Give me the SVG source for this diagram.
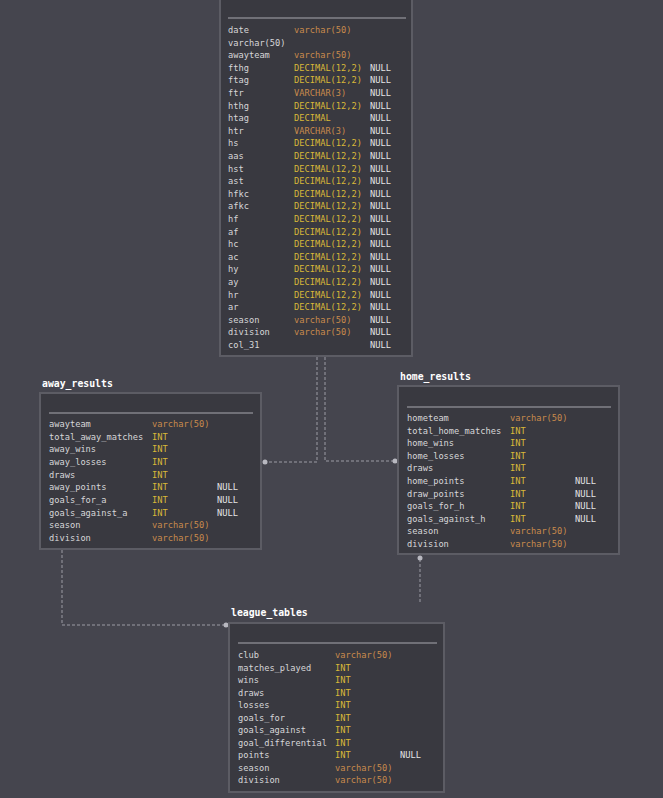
<svg xmlns="http://www.w3.org/2000/svg" width="663" height="798" viewBox="0 0 663 798">
<style>
.bg{fill:#45454e}
.box{fill:#393940;stroke:#5c5c64;stroke-width:2}
.sep{stroke:#a8a8ae;stroke-width:1.2}
text{font-family:"DejaVu Sans Mono","Liberation Mono",monospace;font-size:8.7px}
.n{fill:#d6d6d8}
.v{fill:#c88a4c}
.d{fill:#d8b838}
.nl{fill:#e4e4e6}
.t{fill:#ffffff;font-size:9.8px;font-weight:bold}
.c{fill:none;stroke:#9c9ca4;stroke-width:1;stroke-dasharray:3 2}
.dot{fill:#b8b8c0}
</style>
<rect class="bg" x="0" y="0" width="663" height="798"/>
<g id="connectors">
<path class="c" d="M317 357 V462 H265"/>
<path class="c" d="M325 357 V461 H395"/>
<path class="c" d="M62 550 V625 H226"/>
<path class="c" d="M420 559 V602"/>
<circle class="dot" cx="265" cy="462" r="2.5"/>
<circle class="dot" cx="395" cy="461" r="2.5"/>
<circle class="dot" cx="226" cy="625" r="2.5"/>
<circle class="dot" cx="420" cy="558" r="2.5"/>
</g>
<g id="matches">
<rect class="box" x="220" y="-10" width="192" height="366"/>
<line class="sep" x1="228" y1="18" x2="406" y2="18"/>
<g class="n">
<text x="228" y="33">date</text>
<text x="228" y="45.6">varchar(50)</text>
<text x="228" y="58.2">awayteam</text>
<text x="228" y="70.8">fthg</text>
<text x="228" y="83.4">ftag</text>
<text x="228" y="96">ftr</text>
<text x="228" y="108.6">hthg</text>
<text x="228" y="121.2">htag</text>
<text x="228" y="133.8">htr</text>
<text x="228" y="146.4">hs</text>
<text x="228" y="159">aas</text>
<text x="228" y="171.6">hst</text>
<text x="228" y="184.2">ast</text>
<text x="228" y="196.8">hfkc</text>
<text x="228" y="209.4">afkc</text>
<text x="228" y="222">hf</text>
<text x="228" y="234.6">af</text>
<text x="228" y="247.2">hc</text>
<text x="228" y="259.8">ac</text>
<text x="228" y="272.4">hy</text>
<text x="228" y="285">ay</text>
<text x="228" y="297.6">hr</text>
<text x="228" y="310.2">ar</text>
<text x="228" y="322.8">season</text>
<text x="228" y="335.4">division</text>
<text x="228" y="348">col_31</text>
</g>
<text class="v" x="294" y="33">varchar(50)</text>
<text class="v" x="294" y="58.2">varchar(50)</text>
<text class="d" x="294" y="70.8">DECIMAL(12,2)</text>
<text class="d" x="294" y="83.4">DECIMAL(12,2)</text>
<text class="v" x="294" y="96">VARCHAR(3)</text>
<text class="d" x="294" y="108.6">DECIMAL(12,2)</text>
<text class="d" x="294" y="121.2">DECIMAL</text>
<text class="v" x="294" y="133.8">VARCHAR(3)</text>
<text class="d" x="294" y="146.4">DECIMAL(12,2)</text>
<text class="d" x="294" y="159">DECIMAL(12,2)</text>
<text class="d" x="294" y="171.6">DECIMAL(12,2)</text>
<text class="d" x="294" y="184.2">DECIMAL(12,2)</text>
<text class="d" x="294" y="196.8">DECIMAL(12,2)</text>
<text class="d" x="294" y="209.4">DECIMAL(12,2)</text>
<text class="d" x="294" y="222">DECIMAL(12,2)</text>
<text class="d" x="294" y="234.6">DECIMAL(12,2)</text>
<text class="d" x="294" y="247.2">DECIMAL(12,2)</text>
<text class="d" x="294" y="259.8">DECIMAL(12,2)</text>
<text class="d" x="294" y="272.4">DECIMAL(12,2)</text>
<text class="d" x="294" y="285">DECIMAL(12,2)</text>
<text class="d" x="294" y="297.6">DECIMAL(12,2)</text>
<text class="d" x="294" y="310.2">DECIMAL(12,2)</text>
<text class="v" x="294" y="322.8">varchar(50)</text>
<text class="v" x="294" y="335.4">varchar(50)</text>
<g class="nl">
<text x="370" y="70.8">NULL</text>
<text x="370" y="83.4">NULL</text>
<text x="370" y="96">NULL</text>
<text x="370" y="108.6">NULL</text>
<text x="370" y="121.2">NULL</text>
<text x="370" y="133.8">NULL</text>
<text x="370" y="146.4">NULL</text>
<text x="370" y="159">NULL</text>
<text x="370" y="171.6">NULL</text>
<text x="370" y="184.2">NULL</text>
<text x="370" y="196.8">NULL</text>
<text x="370" y="209.4">NULL</text>
<text x="370" y="222">NULL</text>
<text x="370" y="234.6">NULL</text>
<text x="370" y="247.2">NULL</text>
<text x="370" y="259.8">NULL</text>
<text x="370" y="272.4">NULL</text>
<text x="370" y="285">NULL</text>
<text x="370" y="297.6">NULL</text>
<text x="370" y="310.2">NULL</text>
<text x="370" y="322.8">NULL</text>
<text x="370" y="335.4">NULL</text>
<text x="370" y="348">NULL</text>
</g>
</g>
<g id="away_results">
<text class="t" x="42" y="386.5">away_results</text>
<rect class="box" x="40" y="393" width="221" height="156"/>
<line class="sep" x1="49" y1="413" x2="253" y2="413"/>
<g class="n">
<text x="49" y="427">awayteam</text>
<text x="49" y="439.7">total_away_matches</text>
<text x="49" y="452.3">away_wins</text>
<text x="49" y="465">away_losses</text>
<text x="49" y="477.7">draws</text>
<text x="49" y="490.3">away_points</text>
<text x="49" y="503">goals_for_a</text>
<text x="49" y="515.7">goals_against_a</text>
<text x="49" y="528.3">season</text>
<text x="49" y="541">division</text>
</g>
<text class="v" x="152" y="427">varchar(50)</text>
<text class="d" x="152" y="439.7">INT</text>
<text class="d" x="152" y="452.3">INT</text>
<text class="d" x="152" y="465">INT</text>
<text class="d" x="152" y="477.7">INT</text>
<text class="d" x="152" y="490.3">INT</text>
<text class="d" x="152" y="503">INT</text>
<text class="d" x="152" y="515.7">INT</text>
<text class="v" x="152" y="528.3">varchar(50)</text>
<text class="v" x="152" y="541">varchar(50)</text>
<text class="nl" x="217" y="490.3">NULL</text>
<text class="nl" x="217" y="503">NULL</text>
<text class="nl" x="217" y="515.7">NULL</text>
</g>
<g id="home_results">
<text class="t" x="400" y="379.5">home_results</text>
<rect class="box" x="398" y="386" width="221" height="168"/>
<line class="sep" x1="407" y1="407" x2="611" y2="407"/>
<g class="n">
<text x="407" y="421">hometeam</text>
<text x="407" y="433.6">total_home_matches</text>
<text x="407" y="446.2">home_wins</text>
<text x="407" y="458.8">home_losses</text>
<text x="407" y="471.4">draws</text>
<text x="407" y="484">home_points</text>
<text x="407" y="496.6">draw_points</text>
<text x="407" y="509.2">goals_for_h</text>
<text x="407" y="521.8">goals_against_h</text>
<text x="407" y="534.4">season</text>
<text x="407" y="547">division</text>
</g>
<text class="v" x="510" y="421">varchar(50)</text>
<text class="d" x="510" y="433.6">INT</text>
<text class="d" x="510" y="446.2">INT</text>
<text class="d" x="510" y="458.8">INT</text>
<text class="d" x="510" y="471.4">INT</text>
<text class="d" x="510" y="484">INT</text>
<text class="d" x="510" y="496.6">INT</text>
<text class="d" x="510" y="509.2">INT</text>
<text class="d" x="510" y="521.8">INT</text>
<text class="v" x="510" y="534.4">varchar(50)</text>
<text class="v" x="510" y="547">varchar(50)</text>
<text class="nl" x="575" y="484">NULL</text>
<text class="nl" x="575" y="496.6">NULL</text>
<text class="nl" x="575" y="509.2">NULL</text>
<text class="nl" x="575" y="521.8">NULL</text>
</g>
<g id="league_tables">
<text class="t" x="231" y="615.5">league_tables</text>
<rect class="box" x="229" y="623" width="215" height="169"/>
<line class="sep" x1="238" y1="643" x2="437" y2="643"/>
<g class="n">
<text x="238" y="658">club</text>
<text x="238" y="670.5">matches_played</text>
<text x="238" y="683">wins</text>
<text x="238" y="695.5">draws</text>
<text x="238" y="708">losses</text>
<text x="238" y="720.5">goals_for</text>
<text x="238" y="733">goals_against</text>
<text x="238" y="745.5">goal_differential</text>
<text x="238" y="758">points</text>
<text x="238" y="770.5">season</text>
<text x="238" y="783">division</text>
</g>
<text class="v" x="335" y="658">varchar(50)</text>
<text class="d" x="335" y="670.5">INT</text>
<text class="d" x="335" y="683">INT</text>
<text class="d" x="335" y="695.5">INT</text>
<text class="d" x="335" y="708">INT</text>
<text class="d" x="335" y="720.5">INT</text>
<text class="d" x="335" y="733">INT</text>
<text class="d" x="335" y="745.5">INT</text>
<text class="d" x="335" y="758">INT</text>
<text class="v" x="335" y="770.5">varchar(50)</text>
<text class="v" x="335" y="783">varchar(50)</text>
<text class="nl" x="400" y="758">NULL</text>
</g>
</svg>
